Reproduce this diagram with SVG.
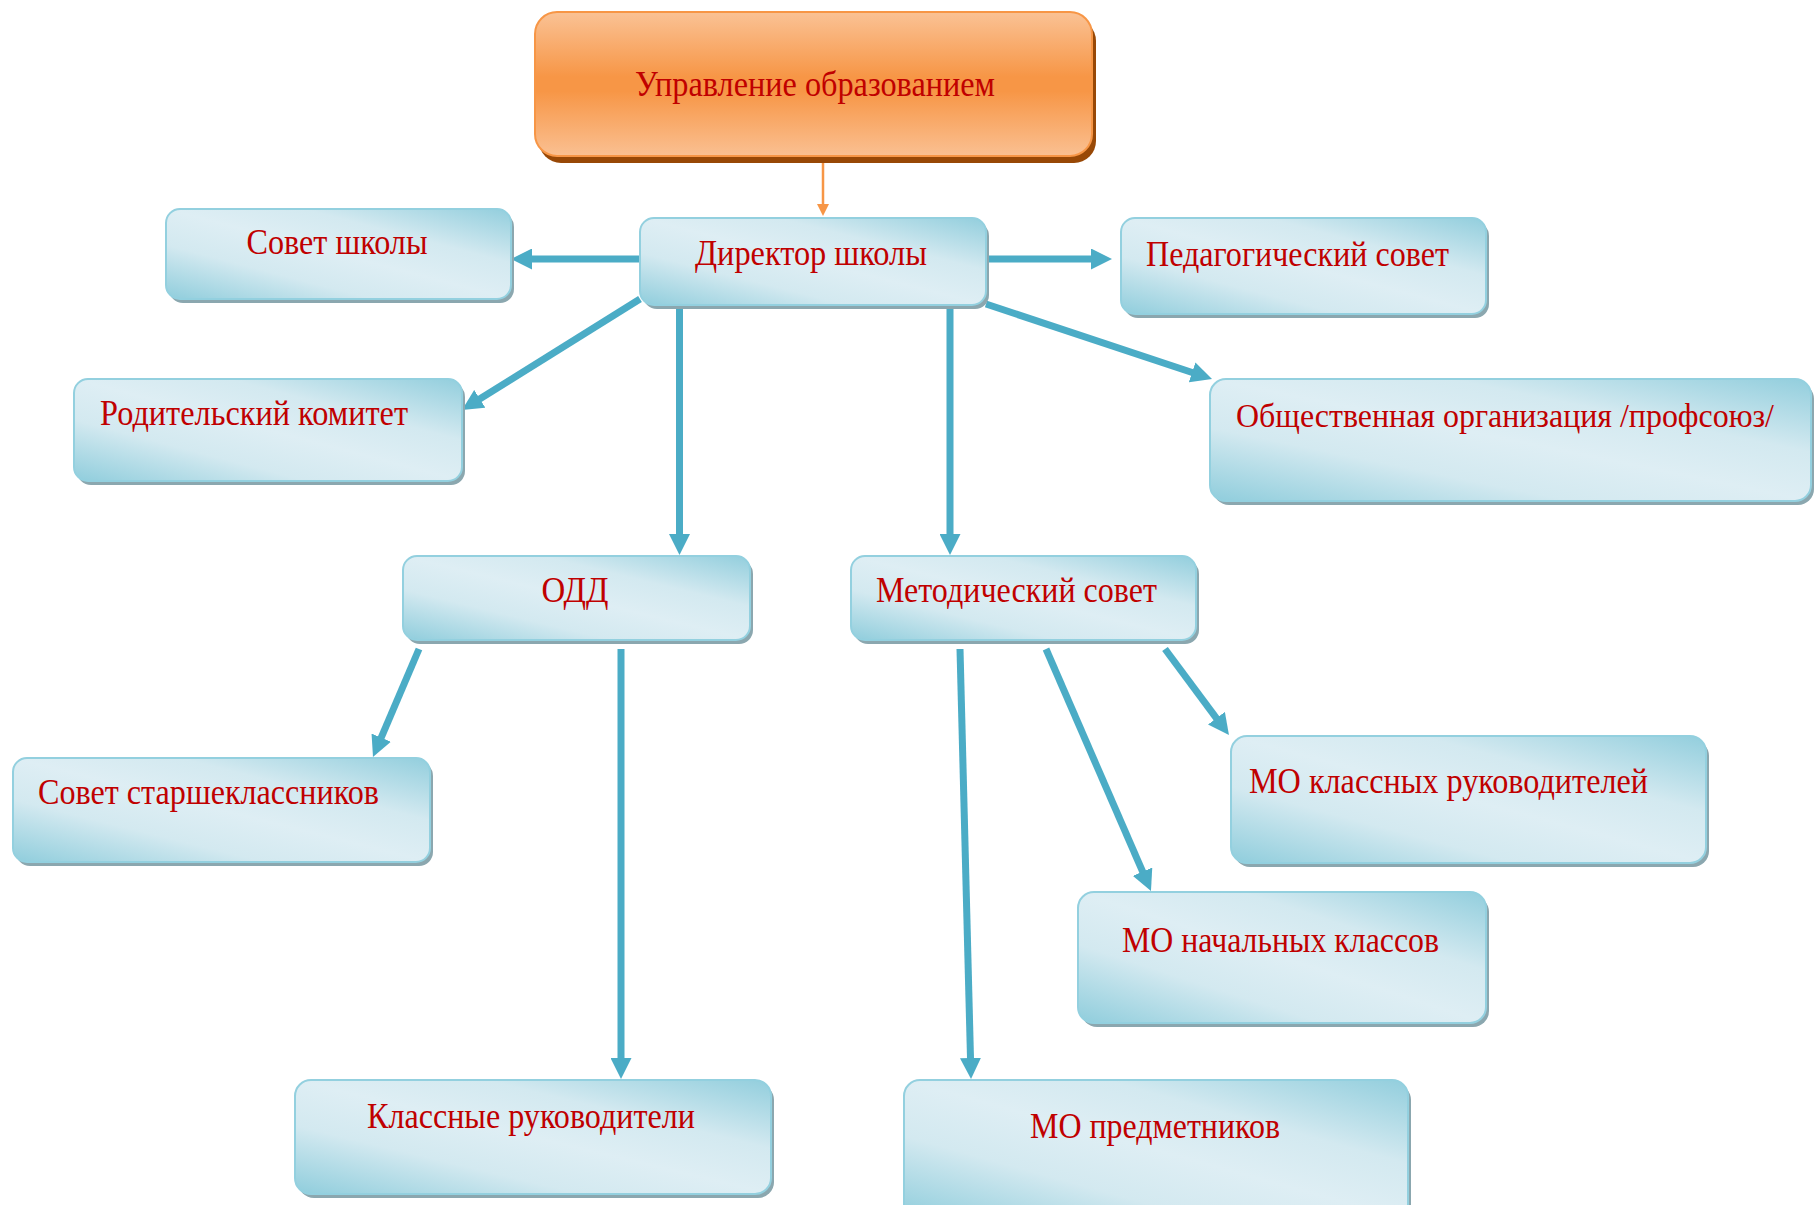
<svg xmlns="http://www.w3.org/2000/svg" width="1817" height="1205" viewBox="0 0 1817 1205">
<style>
.t{font-family:"Liberation Serif","Times New Roman",serif;font-size:35px;fill:#c00000}
.c{stroke:#4bacc6;stroke-width:7;fill:none;marker-end:url(#ab)}
.sh{fill:#8ba7af}
.bx{fill:url(#gb);stroke:#93d0df;stroke-width:2}
</style>
<defs>
<linearGradient id="gb" x1="0" y1="1" x2="1" y2="0">
<stop offset="0" stop-color="#8fcddc"/>
<stop offset="0.3" stop-color="#d3e9f0"/>
<stop offset="0.5" stop-color="#deeef4"/>
<stop offset="0.7" stop-color="#d3e9f0"/>
<stop offset="1" stop-color="#92cedd"/>
</linearGradient>
<linearGradient id="go" x1="0" y1="0" x2="0" y2="1">
<stop offset="0" stop-color="#fac295"/>
<stop offset="0.45" stop-color="#f79646"/>
<stop offset="0.55" stop-color="#f79646"/>
<stop offset="1" stop-color="#fac092"/>
</linearGradient>
<marker id="ab" markerUnits="userSpaceOnUse" markerWidth="21" markerHeight="21" refX="12" refY="10.5" orient="auto">
<path d="M0,0 L21,10.5 L0,21 z" fill="#4bacc6"/>
</marker>
<marker id="ao" markerUnits="userSpaceOnUse" markerWidth="12" markerHeight="12" refX="6" refY="6" orient="auto">
<path d="M0,0 L12,6 L0,12 z" fill="#f79646"/>
</marker>
</defs>

<g id="connectors">
<line x1="823" y1="162" x2="823" y2="210" stroke="#f79646" stroke-width="2.5" marker-end="url(#ao)"/>
<line class="c" x1="640" y1="259" x2="520" y2="259"/>
<line class="c" x1="986" y1="259" x2="1103" y2="259"/>
<line class="c" x1="640" y1="299" x2="469.6" y2="405.2"/>
<line class="c" x1="986" y1="304" x2="1203.5" y2="376.2"/>
<line class="c" x1="679.5" y1="305" x2="679.5" y2="546"/>
<line class="c" x1="950" y1="305" x2="950" y2="546"/>
<line class="c" x1="419" y1="649" x2="376.5" y2="748.7"/>
<line class="c" x1="621" y1="649" x2="621" y2="1070"/>
<line class="c" x1="960" y1="649" x2="970.8" y2="1070"/>
<line class="c" x1="1046" y1="649" x2="1147.4" y2="882.7"/>
<line class="c" x1="1165" y1="649" x2="1223.6" y2="727.8"/>
</g>

<g id="upravlenie">
<rect x="539" y="19" width="557" height="144" rx="22" fill="#984806"/>
<rect x="535" y="12" width="557" height="144" rx="22" fill="url(#go)" stroke="#f79646" stroke-width="2"/>
<text class="t" x="815" y="96" text-anchor="middle" textLength="360" lengthAdjust="spacingAndGlyphs">Управление образованием</text>
</g>

<g id="direktor">
<rect class="sh" x="643" y="222" width="346" height="87" rx="14"/>
<rect class="bx" x="640" y="218" width="346" height="87" rx="14"/>
<text class="t" x="811" y="265" text-anchor="middle" textLength="232" lengthAdjust="spacingAndGlyphs">Директор школы</text>
</g>

<g id="sovet-shkoly">
<rect class="sh" x="169" y="213" width="345" height="90" rx="14"/>
<rect class="bx" x="166" y="209" width="345" height="90" rx="14"/>
<text class="t" x="337" y="254" text-anchor="middle" textLength="181" lengthAdjust="spacingAndGlyphs">Совет школы</text>
</g>

<g id="ped-sovet">
<rect class="sh" x="1124" y="222" width="365" height="96" rx="14"/>
<rect class="bx" x="1121" y="218" width="365" height="96" rx="14"/>
<text class="t" x="1146" y="266" textLength="303" lengthAdjust="spacingAndGlyphs">Педагогический совет</text>
</g>

<g id="roditelsky">
<rect class="sh" x="77" y="383" width="388" height="102" rx="14"/>
<rect class="bx" x="74" y="379" width="388" height="102" rx="14"/>
<text class="t" x="100" y="425" textLength="308" lengthAdjust="spacingAndGlyphs">Родительский комитет</text>
</g>

<g id="obshchestvennaya">
<rect class="sh" x="1213" y="383" width="601" height="122" rx="16"/>
<rect class="bx" x="1210" y="379" width="601" height="122" rx="16"/>
<text class="t" x="1236" y="427" font-size="33" style="font-size:33px" textLength="538" lengthAdjust="spacingAndGlyphs">Общественная организация /профсоюз/</text>
</g>

<g id="odd">
<rect class="sh" x="406" y="560" width="347" height="84" rx="14"/>
<rect class="bx" x="403" y="556" width="347" height="84" rx="14"/>
<text class="t" x="575" y="602" text-anchor="middle" textLength="67" lengthAdjust="spacingAndGlyphs">ОДД</text>
</g>

<g id="metodichesky">
<rect class="sh" x="854" y="560" width="345" height="84" rx="14"/>
<rect class="bx" x="851" y="556" width="345" height="84" rx="14"/>
<text class="t" x="876" y="602" textLength="281" lengthAdjust="spacingAndGlyphs">Методический совет</text>
</g>

<g id="sovet-starsheklassnikov">
<rect class="sh" x="16" y="762" width="417" height="104" rx="14"/>
<rect class="bx" x="13" y="758" width="417" height="104" rx="14"/>
<text class="t" x="38" y="804" textLength="341" lengthAdjust="spacingAndGlyphs">Совет старшеклассников</text>
</g>

<g id="mo-klassnyh">
<rect class="sh" x="1234" y="740" width="475" height="127" rx="16"/>
<rect class="bx" x="1231" y="736" width="475" height="127" rx="16"/>
<text class="t" x="1249" y="793" textLength="399" lengthAdjust="spacingAndGlyphs">МО классных руководителей</text>
</g>

<g id="mo-nachalnyh">
<rect class="sh" x="1081" y="896" width="408" height="131" rx="16"/>
<rect class="bx" x="1078" y="892" width="408" height="131" rx="16"/>
<text class="t" x="1122" y="952" textLength="317" lengthAdjust="spacingAndGlyphs">МО начальных классов</text>
</g>

<g id="klassnye">
<rect class="sh" x="298" y="1084" width="476" height="114" rx="16"/>
<rect class="bx" x="295" y="1080" width="476" height="114" rx="16"/>
<text class="t" x="531" y="1128" text-anchor="middle" textLength="328" lengthAdjust="spacingAndGlyphs">Классные руководители</text>
</g>

<g id="mo-predmetnikov">
<rect class="sh" x="907" y="1084" width="504" height="140" rx="16"/>
<rect class="bx" x="904" y="1080" width="504" height="140" rx="16"/>
<text class="t" x="1155" y="1138" text-anchor="middle" textLength="250" lengthAdjust="spacingAndGlyphs">МО предметников</text>
</g>
</svg>
